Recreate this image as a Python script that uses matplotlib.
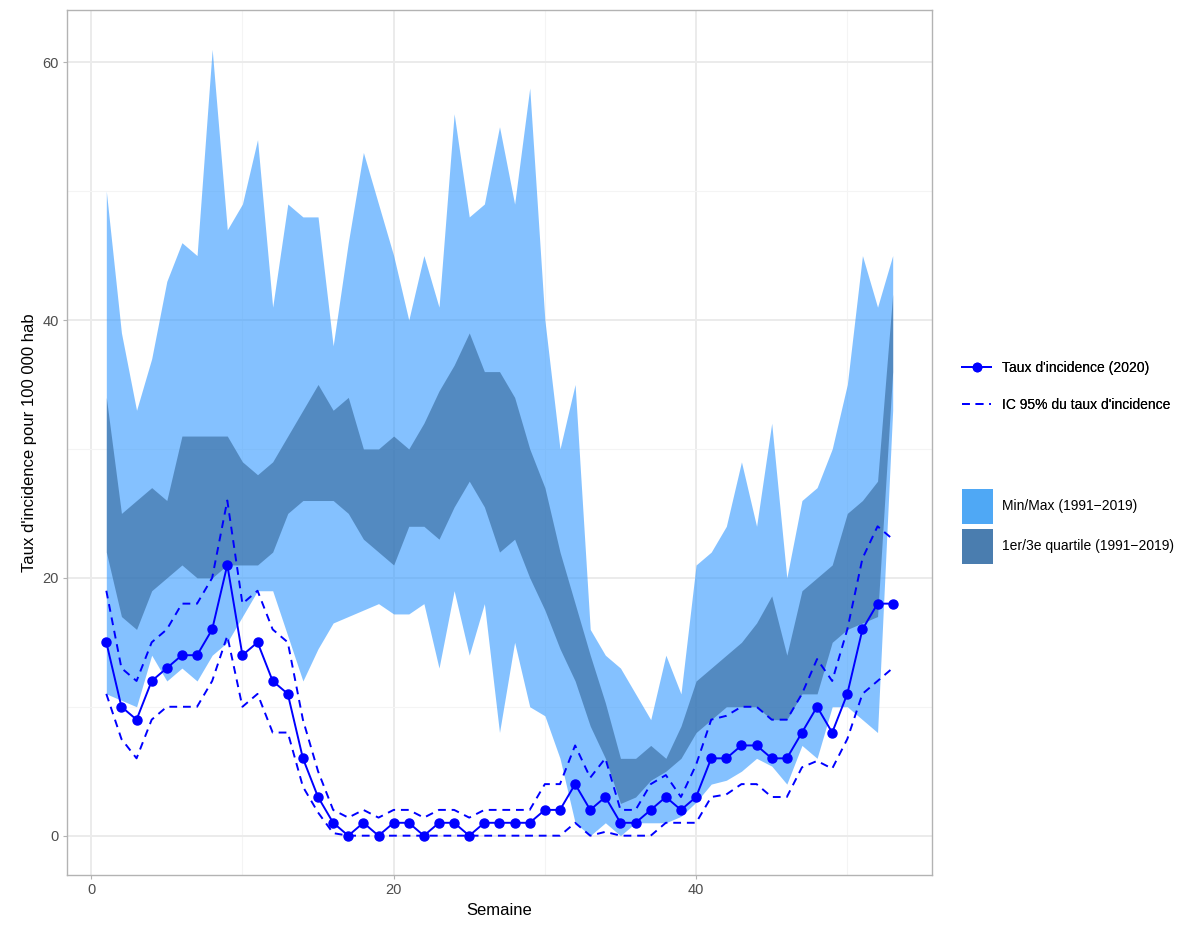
import matplotlib
matplotlib.use("Agg")
import matplotlib.pyplot as plt
from matplotlib.lines import Line2D
from matplotlib.patches import Patch
import numpy as np

plt.rcParams.update({
    'font.family': ['Liberation Sans', 'DejaVu Sans'],
    'font.size': 10,
})

# === Data
semaines = list(range(1, 54))

taux_2020 = [15, 10, 9, 12, 13, 14, 14, 16, 21, 14, 15, 12, 11, 6, 3, 1, 0, 1, 0, 1,
             1, 0, 1, 1, 0, 1, 1, 1, 1, 2, 2, 4, 2, 3, 1, 1, 2, 3, 2, 3,
             6, 6, 7, 7, 6, 6, 8, 10, 8, 11, 16, 18, 18]

ic_haut = [19, 13, 12, 15, 16, 18, 18, 20, 26, 18, 19, 16, 15, 9, 5, 2, 1.4, 2, 1.4, 2,
           2, 1.4, 2, 2, 1.4, 2, 2, 2, 2, 4, 4, 7, 4.5, 6, 2, 2, 4, 4.7, 3, 5.5,
           9, 9.3, 10, 10, 9, 9, 11, 13.7, 12, 16, 21.5, 24, 23]

ic_bas = [11, 7.5, 6, 9, 10, 10, 10, 12, 15.5, 10, 11, 8, 8, 3.8, 1.8, 0.2, 0, 0, 0, 0,
          0, 0, 0, 0, 0, 0, 0, 0, 0, 0, 0, 1, 0, 0.3, 0, 0, 0, 1, 1, 1,
          3, 3.2, 4, 4, 3, 3, 5.3, 5.8, 5.2, 7.5, 11, 12, 13]

minimum = [11, 10.5, 10, 14, 12, 13, 12, 14, 15, 17, 19, 19, 15.5, 12, 14.5, 16.5, 17, 17.5, 18, 17.2,
           17.2, 18, 13, 19, 14, 18, 8, 15, 10, 9.3, 6, 1, 0, 1, 0, 1, 1, 1, 1.5, 2.6,
           4, 4.3, 5, 6, 5.4, 4, 7, 6, 10, 10, 9, 8, 33]

maximum = [50, 39, 33, 37, 43, 46, 45, 61, 47, 49, 54, 41, 49, 48, 48, 38, 46, 53, 49, 45,
           40, 45, 41, 56, 48, 49, 55, 49, 58, 40, 30, 35, 16, 14, 13, 11, 9, 14, 11, 21,
           22, 24, 29, 24, 32, 20, 26, 27, 30, 35, 45, 41, 45]

quartile1 = [22, 17, 16, 19, 20, 21, 20, 20, 21, 21, 21, 22, 25, 26, 26, 26, 25, 23, 22, 21,
             24, 24, 23, 25.5, 27.5, 25.5, 22, 23, 20, 17.5, 14.5, 12, 8.5, 6, 2.5, 3, 4.3, 5, 6, 8,
             9, 10, 10, 10, 9, 9, 11, 11, 15, 16, 16.5, 17, 36]

quartile3 = [34, 25, 26, 27, 26, 31, 31, 31, 31, 29, 28, 29, 31, 33, 35, 33, 34, 30, 30, 31,
             30, 32, 34.5, 36.5, 39, 36, 36, 34, 30, 27, 22, 18, 14, 10.3, 6, 6, 7, 6, 8.5, 12,
             13, 14, 15, 16.5, 18.6, 14, 19, 20, 21, 25, 26, 27.5, 42]

col_minmax = "#3399FF"
col_quart = "#336699"
col_taux = "#0000FF"

fig = plt.figure(figsize=(11.91, 9.26), dpi=100)
ax = fig.add_axes([67 / 1191, 1 - 875 / 926, (932 - 67) / 1191, (875 - 10) / 926])

# bands (semi-transparent, grid shows through)
ax.fill_between(semaines, minimum, maximum, color=col_minmax, alpha=0.6, linewidth=0, zorder=2)
ax.fill_between(semaines, quartile1, quartile3, color=col_quart, alpha=0.6, linewidth=0, zorder=3)

# 2020 incidence + CI
ax.plot(semaines, ic_haut, color=col_taux, linestyle=(0, (4, 3)), linewidth=1.4, zorder=4)
ax.plot(semaines, ic_bas, color=col_taux, linestyle=(0, (4, 3)), linewidth=1.4, zorder=4)
ax.plot(semaines, taux_2020, color=col_taux, linewidth=1.4, marker='o', markersize=6.5, zorder=5)

# axes styling (ggplot theme_light-like)
ax.set_xlim(-1.6, 55.6)
ax.set_ylim(-3.05, 64.05)
ax.set_xticks([0, 20, 40])
ax.set_yticks([0, 20, 40, 60])
ax.set_xticks([10, 30, 50], minor=True)
ax.set_yticks([10, 30, 50], minor=True)
ax.set_axisbelow(True)
ax.grid(which='major', color='#ebebeb', linewidth=1.4)
ax.grid(which='minor', color='#f4f4f4', linewidth=0.8)
ax.tick_params(which='major', length=3, width=0.8, color='#b3b3b3', labelcolor='#4d4d4d',
               labelsize=10.5, pad=3)
ax.tick_params(which='minor', length=0)
for sp in ax.spines.values():
    sp.set_color('#b3b3b3')
    sp.set_linewidth(1.0)

ax.set_xlabel("Semaine", fontsize=12, labelpad=4)
ax.set_ylabel("Taux d'incidence pour 100 000 hab", fontsize=12, labelpad=4)

# legends
h_lines = [
    Line2D([], [], color=col_taux, linewidth=1.4, marker='o', markersize=6),
    Line2D([], [], color=col_taux, linewidth=1.4, linestyle=(0, (4, 3))),
]
leg1 = fig.legend(h_lines, ["Taux d'incidence (2020)", "IC 95% du taux d'incidence"],
                  loc='center left', bbox_to_anchor=(962 / 1191, 1 - 386.5 / 926),
                  frameon=False, fontsize=10, handlelength=2.1, handletextpad=0.8,
                  labelspacing=1.65, borderpad=0, borderaxespad=0)

h_bands = [
    Patch(facecolor="#4FA8F5", edgecolor='none'),
    Patch(facecolor="#4A7DAF", edgecolor='none'),
]
leg2 = fig.legend(h_bands, ["Min/Max (1991\u22122019)", "1er/3e quartile (1991\u22122019)"],
                  loc='center left', bbox_to_anchor=(962 / 1191, 1 - 526.5 / 926),
                  frameon=False, fontsize=10, handlelength=2.2, handleheight=3.6,
                  handletextpad=0.7, labelspacing=0.3, borderpad=0, borderaxespad=0)
fig.add_artist(leg1)

fig.savefig("out.png", dpi=100)
